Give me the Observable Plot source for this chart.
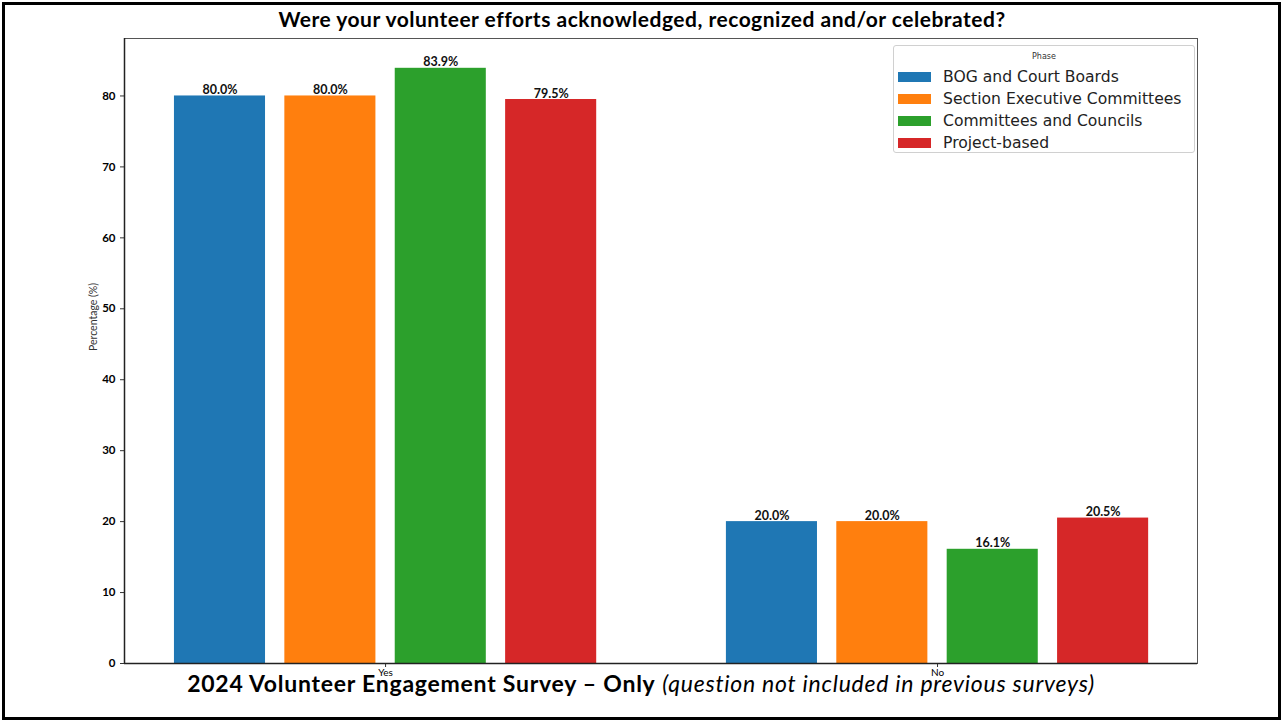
<!DOCTYPE html>
<html>
<head>
<meta charset="utf-8">
<script src="https://cdn.jsdelivr.net/npm/d3@7"></script>
<script src="https://cdn.jsdelivr.net/npm/@observablehq/plot@0.6"></script>
<style>
  html, body { margin: 0; padding: 0; background: #fff; }
  #page { position: relative; width: 1287px; height: 722px; overflow: hidden; }
  #border { position: absolute; left: 2px; top: 2px; width: 1273px; height: 712px; border: 3px solid #000; }
  #title { position: absolute; left: 0; width: 1284px; top: 6px; text-align: center; font-family: Lato, sans-serif; font-weight: bold; font-size: 21px; letter-spacing: 0.5px; color: #000; }
  #caption { position: absolute; left: 0; width: 1282px; top: 669px; text-align: center; font-family: Lato, sans-serif; font-size: 23px; letter-spacing: 0.75px; color: #000; }
  #chart { position: absolute; left: 0; top: 0; }
  #legend { position: absolute; left: 893px; top: 45px; width: 302px; height: 108px; border: 1px solid #d0d0d0; border-radius: 3px; background: rgba(255,255,255,0.85); font-family: "DejaVu Sans", sans-serif; box-sizing: border-box; }
  #legend .lt { text-align: center; font-size: 8px; color: #333; margin-top: 6px; }
  #legend .row { position: absolute; left: 4px; height: 20px; display: flex; align-items: center; font-size: 15.6px; color: #222; white-space: nowrap; }
  #legend .sw { width: 33px; height: 10px; margin-right: 12px; }
</style>
</head>
<body>
<div id="page">
  <div id="chart"></div>
  <div id="title"></div>
  <div id="legend"></div>
  <div id="caption"></div>
  <div id="border"></div>
</div>
<script>
const titleText = "Were your volunteer efforts acknowledged, recognized and/or celebrated?";
const captionBold = "2024 Volunteer Engagement Survey \u2013 Only";
const captionItalic = "(question not included in previous surveys)";
const yLabel = "Percentage (%)";
const legendTitle = "Phase";
const categories = ["Yes", "No"];
const series = ["BOG and Court Boards", "Section Executive Committees", "Committees and Councils", "Project-based"];
const colors = ["#1f77b4", "#ff7f0e", "#2ca02c", "#d62728"];
const yesValues = [80.0, 80.0, 83.9, 79.5];
const noValues = [20.0, 20.0, 16.1, 20.5];
const yTicks = [0, 10, 20, 30, 40, 50, 60, 70, 80];

const table = [];
[yesValues, noValues].forEach((vals, ci) => {
  vals.forEach((v, si) => table.push({ci, si, category: categories[ci], series: series[si], value: v}));
});

const step = 0.2, barW = 0.165;
const center = d => d.ci + (d.si - 1.5) * step;

document.getElementById("title").textContent = titleText;
document.getElementById("caption").innerHTML = "<b>" + captionBold + "</b> <i>" + captionItalic + "</i>";

const chart = Plot.plot({
  width: 1287,
  height: 700,
  marginLeft: 124,
  marginRight: 90,
  marginTop: 38,
  marginBottom: 37,
  style: {fontFamily: "Lato, sans-serif", background: "transparent"},
  x: {type: "linear", domain: [-0.473, 1.471], axis: null},
  y: {domain: [0, 88.1], axis: null},
  color: {domain: series, range: colors},
  marks: [
    Plot.rectY(table, {x1: d => center(d) - barW / 2, x2: d => center(d) + barW / 2, y1: 0, y2: "value", fill: "series"}),
    Plot.text(table, {x: center, y: "value", text: d => d.value.toFixed(1) + "%", lineAnchor: "bottom", dy: -2, fontSize: 12.5, fontWeight: "bold", fill: "#111"}),
    Plot.axisY(yTicks, {tickSize: 4, tickPadding: 5, fontSize: 11.5, fontWeight: "bold", label: null, stroke: "#333"}),
    Plot.axisX([0, 1], {tickSize: 4, tickPadding: 1, fontSize: 10, tickFormat: i => categories[i], label: null, stroke: "#333"}),
    Plot.text([yLabel], {frameAnchor: "left", dx: -31, rotate: -90, fontSize: 10.5, fill: "#333", text: d => d}),
    Plot.frame({stroke: "#555", strokeWidth: 1}),
    Plot.ruleX([-0.473], {stroke: "#222", strokeWidth: 1.5}),
    Plot.ruleY([0], {stroke: "#222", strokeWidth: 1.5})
  ]
});
document.getElementById("chart").appendChild(chart);

const lg = document.getElementById("legend");
lg.innerHTML = '<div class="lt">' + legendTitle + '</div>';
series.forEach((s, i) => {
  const r = document.createElement("div");
  r.className = "row";
  r.style.top = (21 + i * 22) + "px";
  r.innerHTML = '<span class="sw" style="background:' + colors[i] + '"></span><span>' + s + '</span>';
  lg.appendChild(r);
});
</script>
</body>
</html>
